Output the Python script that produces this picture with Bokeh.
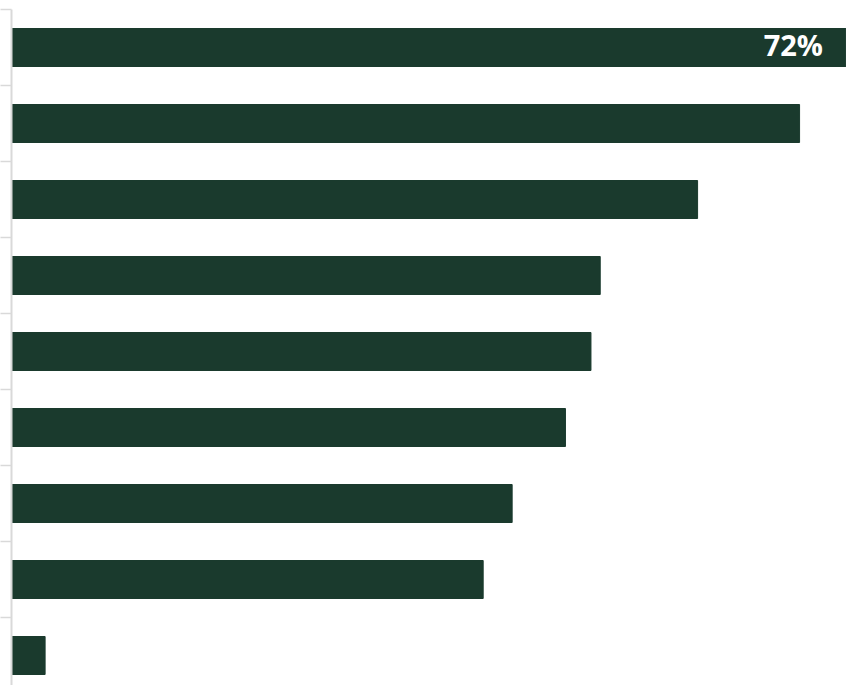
from bokeh.plotting import figure
from bokeh.models import ColumnDataSource, FixedTicker, Range1d, CustomJSTickFormatter
from bokeh.embed import file_html
from bokeh.resources import INLINE
from bokeh.core.properties import value

categories = ["A", "B", "C", "D", "E", "F", "G", "H", "I"]
values = [72.0, 68.0, 59.2, 50.8, 50.0, 47.8, 43.2, 40.7, 2.9]
label_text = ["72%"]

n = len(categories)
ypos = [n - i - 0.5 for i in range(n)]
src = ColumnDataSource(dict(y=ypos, v=values, cat=categories))
lab_src = ColumnDataSource(dict(y=ypos[:1], v=values[:1], lab=label_text))

p = figure(width=846, height=685, output_backend="svg", toolbar_location=None,
           x_range=Range1d(0, 72.05), y_range=Range1d(n - 676 / 76, n),
           min_border_left=0, min_border_right=0, min_border_top=9, min_border_bottom=0)
p.hbar(y="y", right="v", left=0, height=0.5, source=src, color="#1a3a2d")
p.text(x="v", y="y", text="lab", source=lab_src, text_align="right", text_baseline="middle",
       x_offset=-23, y_offset=-3, text_color="white", text_font=value("Open Sans"),
       text_font_style="bold", text_font_size="29px")

p.xaxis.visible = False
p.xgrid.visible = False
p.ygrid.visible = False
p.outline_line_color = None
ya = p.yaxis[0]
ya.ticker = FixedTicker(ticks=list(range(n + 1)))
ya.formatter = CustomJSTickFormatter(code="return ''")
ya.major_label_standoff = 0
ya.major_tick_out = 11
ya.major_tick_in = 0
ya.minor_tick_line_color = None
ya.axis_line_color = "#d9d9d9"
ya.major_tick_line_color = "#d9d9d9"
ya.axis_line_width = 2
ya.major_tick_line_width = 1.5

open("out.html", "w").write(file_html(p, INLINE))
